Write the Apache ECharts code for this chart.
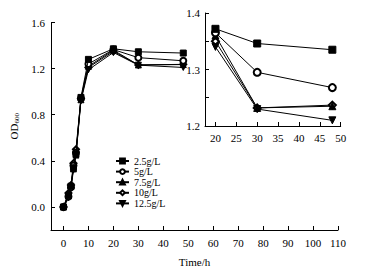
<!DOCTYPE html>
<html>
<head>
<meta charset="utf-8">
<script src="https://cdn.jsdelivr.net/npm/echarts@6/dist/echarts.min.js"></script>
<style>
  html, body { margin: 0; padding: 0; background: #fff; }
  #chart { width: 370px; height: 273px; }
</style>
</head>
<body>
<div id="chart"></div>
<script>
var times = [0, 2, 3, 4, 5, 7, 10, 20, 30, 48];
var names = ['2.5g/L', '5g/L', '7.5g/L', '10g/L', '12.5g/L'];
var s25 = [0.00, 0.10, 0.18, 0.34, 0.46, 0.95, 1.28, 1.372, 1.346, 1.335];
var s5 = [0.00, 0.09, 0.17, 0.36, 0.47, 0.94, 1.24, 1.365, 1.295, 1.268];
var s75 = [0.00, 0.11, 0.18, 0.33, 0.45, 0.93, 1.22, 1.360, 1.232, 1.235];
var s10 = [0.00, 0.12, 0.19, 0.38, 0.50, 0.94, 1.21, 1.350, 1.232, 1.237];
var s125 = [-0.01, 0.08, 0.16, 0.32, 0.45, 0.92, 1.19, 1.340, 1.230, 1.210];
var mainXTicks = [0, 10, 20, 30, 40, 50, 60, 70, 80, 90, 100, 110];
var mainYTicks = [0, 0.4, 0.8, 1.2, 1.6];
var insetXTicks = [20, 25, 30, 35, 40, 45, 50];
var insetYLabels = [1.2, 1.3, 1.4];
var insetYTicks = [1.2, 1.25, 1.3, 1.35, 1.4];
var insetStart = 7; // inset shows t >= 20

var serif = '"Liberation Serif", "DejaVu Serif", serif';
var symbols = [
  { symbol: 'rect', rotate: 0 },
  { symbol: 'emptyCircle', rotate: 0 },
  { symbol: 'triangle', rotate: 0 },
  { symbol: 'emptyDiamond', rotate: 0 },
  { symbol: 'triangle', rotate: 180 }
];
var allData = [s25, s5, s75, s10, s125];

function pairs(vals, from) {
  var out = [];
  for (var i = from; i < vals.length; i++) out.push([times[i], vals[i]]);
  return out;
}

function axisBase() {
  return {
    axisLine: { show: true, onZero: false, lineStyle: { color: '#000', width: 1 } },
    axisTick: { inside: true, length: 4, lineStyle: { color: '#000' } },
    axisLabel: { color: '#000', fontFamily: serif, fontSize: 11 },
    splitLine: { show: false }
  };
}

var series = [];
allData.forEach(function(d, i) {
  var common = {
    type: 'line',
    name: names[i],
    symbol: symbols[i].symbol,
    symbolRotate: symbols[i].rotate,
    lineStyle: { color: '#000', width: 1 },
    itemStyle: { color: '#000', borderColor: '#000', borderWidth: 1 },
    z: 10 - i
  };
  series.push(Object.assign({}, common, { xAxisIndex: 0, yAxisIndex: 0, symbolSize: 6, data: pairs(d, 0) }));
  series.push(Object.assign({}, common, { xAxisIndex: 1, yAxisIndex: 1, symbolSize: 7, data: pairs(d, insetStart) }));
});

var mx = axisBase(), my = axisBase(), ix = axisBase(), iy = axisBase();

var chart = echarts.init(document.getElementById('chart'), null, { renderer: 'svg' });
chart.setOption({
  animation: false,
  backgroundColor: '#fff',
  grid: [
    { left: 51, right: 32, top: 22.5, bottom: 43 },
    { left: 205, right: 29.3, top: 13, height: 113 }
  ],
  legend: {
    data: names,
    orient: 'vertical',
    left: 110,
    top: 151,
    itemWidth: 13,
    itemHeight: 6,
    itemGap: 0.6,
    textStyle: { color: '#000', fontFamily: serif, fontSize: 10, lineHeight: 8 }
  },
  xAxis: [
    Object.assign(mx, {
      type: 'value', gridIndex: 0, min: -5, max: 110,
      name: 'Time/h', nameLocation: 'middle', nameGap: 26,
      nameTextStyle: { color: '#000', fontFamily: serif, fontSize: 11 },
      axisTick: { inside: true, length: 4, lineStyle: { color: '#000' }, customValues: mainXTicks },
      axisLabel: { color: '#000', fontFamily: serif, fontSize: 11, margin: 7, customValues: mainXTicks }
    }),
    Object.assign(ix, {
      type: 'value', gridIndex: 1, min: 17.5, max: 50,
      axisTick: { inside: true, length: 4, lineStyle: { color: '#000' }, customValues: insetXTicks },
      axisLabel: { color: '#000', fontFamily: serif, fontSize: 11, margin: 6, customValues: insetXTicks }
    })
  ],
  yAxis: [
    Object.assign(my, {
      type: 'value', gridIndex: 0, min: -0.2, max: 1.6,
      name: '{a|OD}{b|600}', nameLocation: 'middle', nameGap: 30,
      nameTextStyle: {
        color: '#000',
        rich: {
          a: { fontFamily: serif, fontSize: 11, color: '#000' },
          b: { fontFamily: serif, fontSize: 7, color: '#000', padding: [5, 0, 0, 0] }
        }
      },
      axisTick: { inside: true, length: 4, lineStyle: { color: '#000' }, customValues: mainYTicks },
      axisLabel: {
        color: '#000', fontFamily: serif, fontSize: 11, margin: 6, customValues: mainYTicks,
        formatter: function(v) { return v.toFixed(1); }
      }
    }),
    Object.assign(iy, {
      type: 'value', gridIndex: 1, min: 1.2, max: 1.4,
      axisTick: { inside: true, length: 4, lineStyle: { color: '#000' }, customValues: insetYTicks },
      axisLabel: {
        color: '#000', fontFamily: serif, fontSize: 11, margin: 5, customValues: insetYLabels,
        formatter: function(v) { return v.toFixed(1); }
      }
    })
  ],
  series: series
});
</script>
</body>
</html>
